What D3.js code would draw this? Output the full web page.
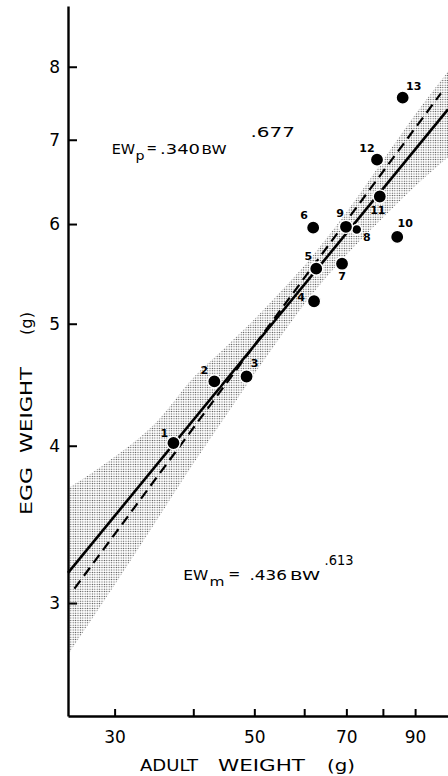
<!DOCTYPE html>
<html>
<head>
<meta charset="utf-8">
<script src="https://cdn.jsdelivr.net/npm/d3@7"></script>
<style>
html,body{margin:0;padding:0;background:#fff;}
svg{display:block;}
text{font-family:"DejaVu Sans", "Liberation Sans", Arial, sans-serif;fill:#000;}
</style>
</head>
<body>
<svg id="chart" width="448" height="776"></svg>
<script>
// ---- data ----
const species = ["1","2","3","4","5","6","7","8","9","10","11","12","13"];
const adultWeight = [37.2, 43.2, 48.6, 62.2, 62.7, 62.0, 68.9, 72.7, 69.9, 84.3, 79.1, 78.3, 86.0];
const eggWeight   = [4.02, 4.50, 4.54, 5.21, 5.53, 5.96, 5.58, 5.94, 5.97, 5.86, 6.31, 6.75, 7.56];

// regression lines (end points, in data units)
const solidBW  = [25.3, 101.5];
const solidEW  = [3.17, 7.40];
const dashedBW = [25.9, 98.9];
const dashedEW = [3.08, 7.62];

// shaded confidence band
const bandBW   = [25.3, 30, 35, 40, 45, 50, 55, 60, 65, 70, 80, 90, 101.5];
const bandLow  = [2.73, 3.10, 3.49, 3.87, 4.22, 4.56, 4.88, 5.18, 5.44, 5.67, 6.07, 6.43, 6.78];
const bandHigh = [3.70, 3.92, 4.18, 4.53, 4.79, 5.04, 5.30, 5.56, 5.84, 6.13, 6.74, 7.33, 7.93];

const xTicks = [30, 40, 50, 60, 70, 80, 90];
const xTickLabels = [30, 50, 70, 90];
const yTicks = [3, 4, 5, 6, 7, 8];

// ---- layout ----
const svg = d3.select("#chart");
const x = d3.scaleLog().domain([25.3, 101.5]).range([68, 448]);
const y = d3.scaleLog().domain([2.44, 8.94]).range([716, 6]);

// stipple pattern
const defs = svg.append("defs");
const pat = defs.append("pattern").attr("id","stip").attr("patternUnits","userSpaceOnUse")
  .attr("width",2.4).attr("height",2.4);
pat.append("circle").attr("cx",1.2).attr("cy",1.2).attr("r",0.66).attr("fill","#444");

// band
const band = bandBW.map((b,i)=>({b, lo:bandLow[i], hi:bandHigh[i]}));
svg.append("path")
  .datum(band)
  .attr("d", d3.area().x(d=>x(d.b)).y0(d=>y(d.lo)).y1(d=>y(d.hi)).curve(d3.curveMonotoneX))
  .attr("fill","url(#stip)");

// regression lines
const line = d3.line().x(d=>x(d[0])).y(d=>y(d[1]));
svg.append("path").datum(solidBW.map((b,i)=>[b, solidEW[i]]))
  .attr("d", line).attr("fill","none").attr("stroke","#000").attr("stroke-width",2.6);
svg.append("path").datum(dashedBW.map((b,i)=>[b, dashedEW[i]]))
  .attr("d", line).attr("fill","none").attr("stroke","#000").attr("stroke-width",2.2)
  .attr("stroke-dasharray","10,6");

// axes
const yAxis = svg.append("g").attr("transform","translate(68,0)")
  .call(d3.axisLeft(y).tickValues(yTicks).tickSize(-9).tickSizeOuter(0).tickPadding(8).tickFormat(d3.format("d")));
const xAxis = svg.append("g").attr("transform","translate(0,716)")
  .call(d3.axisBottom(x).tickValues(xTicks).tickSize(-7).tickSizeOuter(0).tickPadding(15)
    .tickFormat(d => xTickLabels.includes(d) ? d : ""));
[yAxis, xAxis].forEach(g=>{
  g.select(".domain").attr("stroke","#000").attr("stroke-width",2.4);
  g.selectAll(".tick line").attr("stroke","#000").attr("stroke-width",2);
  g.selectAll(".tick text").attr("font-size",17).attr("fill","#000")
    .style("font-family","'DejaVu Sans', sans-serif");
});

// points
const pts = species.map((s,i)=>({s, bw:adultWeight[i], ew:eggWeight[i]}));
const labelOffset = {"1":[-9,-10],"2":[-10,-11],"3":[8,-13],"4":[-13,-4],"5":[-8,-12],"6":[-9,-12],
  "7":[0,13],"8":[10,8],"9":[-6,-13],"10":[8,-13],"11":[-2,14],"12":[-10,-11],"13":[11,-11]};
svg.append("g").selectAll("circle").data(pts).join("circle")
  .attr("cx",d=>x(d.bw)).attr("cy",d=>y(d.ew))
  .attr("r",d=>d.s==="8"?5:6.6)
  .attr("fill","#000").attr("stroke","#fff").attr("stroke-width",1.4);
svg.append("g").selectAll("text").data(pts).join("text")
  .attr("x",d=>x(d.bw)+labelOffset[d.s][0])
  .attr("y",d=>y(d.ew)+labelOffset[d.s][1])
  .attr("text-anchor","middle").attr("dominant-baseline","central")
  .attr("font-size",11).attr("font-weight","bold")
  .text(d=>d.s);

// equations: [text, x, baseline y, font size, width]
function eq(parts){
  const t = svg.append("text");
  parts.forEach(p=>{
    t.append("tspan").attr("x",p[1]).attr("y",p[2]).attr("font-size",p[3])
      .attr("textLength",p[4]).attr("lengthAdjust","spacingAndGlyphs").text(p[0]);
  });
}
eq([["EW",111.7,154,13.5,23.5],["p",135.5,159.5,12,9],["=",146.5,153,13.5,10.5],[".340",160,154,13.5,40],["BW",201.5,154,12,25],[".677",250.5,137,13.5,44.5]]);
eq([["EW",183.3,580,14.5,25],["m",209.5,586,12.5,15],["=",228.3,579,14.5,12],[".436",249.5,580,14.5,37.5],["BW",290,580,12,30],[".613",324.5,565,14,29]]);

// axis titles: words placed along the axes
function title(words, attrs){
  const t = svg.append("text").attr("font-size",15);
  if (attrs.transform) t.attr("transform",attrs.transform);
  words.forEach(w=>{
    t.append("tspan").attr("x",w[1]).attr("y",attrs.y)
      .attr("textLength",w[2]).attr("lengthAdjust","spacingAndGlyphs").text(w[0]);
  });
}
title([["ADULT",140,58],["WEIGHT",218,87],["(g)",327,28]], {y:771});
title([["EGG",0,48],["WEIGHT",62,86],["(g)",180,23]], {y:0, transform:"translate(32,515) rotate(-90)"});
</script>
</body>
</html>
